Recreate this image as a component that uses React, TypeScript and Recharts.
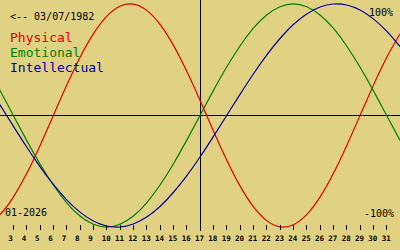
import React from 'react';
import { LineChart, Line, XAxis, YAxis, ReferenceLine } from 'recharts';

// Day of month (January 2026)
const days = [1, 2, 3, 4, 5, 6, 7, 8, 9, 10, 11, 12, 13, 14, 15, 16, 17, 18, 19, 20, 21, 22, 23, 24, 25, 26, 27, 28, 29, 30, 31, 32];

// Biorhythm values (-1 .. 1)
const physical = [-0.979, -0.888, -0.731, -0.52, -0.27, 0, 0.27, 0.52, 0.731, 0.888, 0.979, 0.998, 0.942, 0.817, 0.631, 0.398, 0.136, -0.136, -0.398, -0.631, -0.817, -0.942, -0.998, -0.979, -0.888, -0.731, -0.52, -0.27, 0, 0.27, 0.52, 0.731];
const emotional = [0.434, 0.223, 0, -0.223, -0.434, -0.623, -0.782, -0.901, -0.975, -1, -0.975, -0.901, -0.782, -0.623, -0.434, -0.223, 0, 0.223, 0.434, 0.623, 0.782, 0.901, 0.975, 1, 0.975, 0.901, 0.782, 0.623, 0.434, 0.223, 0, -0.223];
const intellectual = [0.282, 0.095, -0.095, -0.282, -0.458, -0.618, -0.756, -0.866, -0.945, -0.99, -0.999, -0.972, -0.91, -0.815, -0.69, -0.541, -0.372, -0.189, 0, 0.189, 0.372, 0.541, 0.69, 0.815, 0.91, 0.972, 0.999, 0.99, 0.945, 0.866, 0.756, 0.618];

const dayTicks = [3, 4, 5, 6, 7, 8, 9, 10, 11, 12, 13, 14, 15, 16, 17, 18, 19, 20, 21, 22, 23, 24, 25, 26, 27, 28, 29, 30, 31];
const todayDay = 17;

const birthLabel = '<-- 03/07/1982';
const monthLabel = '01-2026';
const seriesNames = ['Physical', 'Emotional', 'Intellectual'];
const seriesColors = ['#e00000', '#008000', '#0000a0'];
const maxLabel = '100%';
const minLabel = '-100%';

const data = days.map((d, i) => ({
  day: d,
  physical: physical[i],
  emotional: emotional[i],
  intellectual: intellectual[i],
}));

const MONO = '"DejaVu Sans Mono", "Liberation Mono", monospace';
const BG = '#e0d282';

const DayTick = (props: any) => {
  const { x, y, payload } = props;
  return (
    <g>
      <line x1={x} x2={x} y1={y - 6} y2={y - 1} stroke="#000" strokeWidth={1} shapeRendering="crispEdges" />
      <text x={x - 5} y={y + 10} fontSize={7.5} fontWeight="bold" fontFamily={MONO} fill="#000">
        {payload.value}
      </text>
    </g>
  );
};

export default function App() {
  return (
    <div style={{ position: 'fixed', left: 0, top: 0, width: 400, height: 250, background: BG, overflow: 'hidden' }}>
      <LineChart width={400} height={250} data={data} margin={{ top: 0, right: 0, bottom: 0, left: 0 }}>
        <XAxis
          dataKey="day"
          type="number"
          domain={[2, 32]}
          allowDataOverflow
          ticks={dayTicks}
          interval={0}
          height={19}
          tickSize={0}
          tickMargin={0}
          axisLine={false}
          tickLine={false}
          tick={<DayTick />}
        />
        <YAxis hide domain={[-1.035, 1.035]} allowDataOverflow />
        <ReferenceLine y={0} stroke="#000" strokeWidth={1} shapeRendering="crispEdges" />
        <ReferenceLine x={todayDay} stroke="#000" strokeWidth={1} shapeRendering="crispEdges" />
        <Line type="natural" dataKey="physical" stroke={seriesColors[0]} strokeWidth={1.2} dot={false} activeDot={false} isAnimationActive={false} />
        <Line type="natural" dataKey="emotional" stroke={seriesColors[1]} strokeWidth={1.2} dot={false} activeDot={false} isAnimationActive={false} />
        <Line type="natural" dataKey="intellectual" stroke={seriesColors[2]} strokeWidth={1.2} dot={false} activeDot={false} isAnimationActive={false} />
      </LineChart>
      <svg width={400} height={250} style={{ position: 'absolute', left: 0, top: 0, pointerEvents: 'none' }}>
        <text x={10} y={20} fontSize={10} fontFamily={MONO} fill="#000">{birthLabel}</text>
        {seriesNames.map((n, i) => (
          <text key={n} x={10} y={42 + i * 15} fontSize={13} fontFamily={MONO} fill={seriesColors[i]}>{n}</text>
        ))}
        <text x={393} y={16} fontSize={10} fontFamily={MONO} fill="#000" textAnchor="end">{maxLabel}</text>
        <text x={394} y={217} fontSize={10} fontFamily={MONO} fill="#000" textAnchor="end">{minLabel}</text>
        <text x={5} y={216} fontSize={10} fontFamily={MONO} fill="#000">{monthLabel}</text>
      </svg>
    </div>
  );
}
